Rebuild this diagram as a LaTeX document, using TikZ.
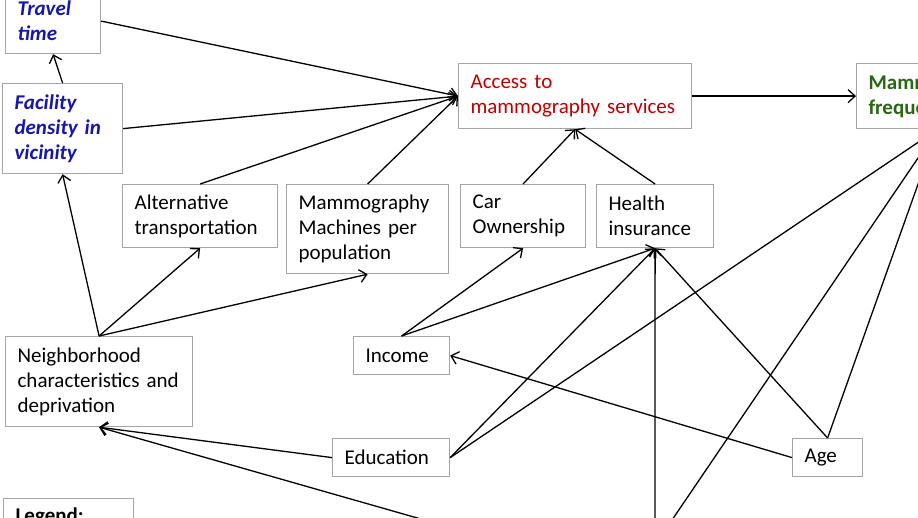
\documentclass[tikz,border=0pt]{standalone}
\usepackage{fontspec}
\setmainfont{Carlito}
\usetikzlibrary{arrows.meta}
\definecolor{boxgray}{RGB}{165,165,165}
\definecolor{factblue}{RGB}{22,22,170}
\definecolor{accessred}{RGB}{192,0,0}
\definecolor{freqgreen}{RGB}{40,104,18}
\begin{document}
\begin{tikzpicture}[x=1pt,y=-1pt,
  box/.style={draw=boxgray, line width=1.2pt, anchor=north west, align=left, inner xsep=12pt, inner ysep=0pt, font=\fontsize{21}{25}\selectfont},
  fact/.style={text=factblue, font=\fontsize{21}{25}\selectfont\bfseries\itshape},
  link/.style={-{Straight Barb[length=7pt,width=13pt]}, line width=1.3pt}]
\useasboundingbox (0,0) rectangle (918,517);
\clip (0,0) rectangle (918,517);
\node[box, fact, text width=71pt, minimum height=65pt] (travel) at (5,-12) {Travel\\time};
\node[box, fact, text width=96pt, minimum height=90pt] (facility) at (2,83) {Facility\\density in\\vicinity};
\node[box, text=accessred, text width=209pt, minimum height=65pt] (access) at (458,63) {Access to\\mammography services};
\node[box, text=freqgreen, font=\fontsize{21}{25}\selectfont\bfseries, text width=138pt, minimum height=65pt] (freq) at (856,63) {Mammography\\frequency};
\node[box, text width=131pt, minimum height=63pt] (alt) at (122,184) {Alternative\\transportation};
\node[box, text width=138pt, minimum height=89pt] (machines) at (286,184) {Mammography\\Machines per\\population};
\node[box, text width=101pt, minimum height=63pt] (car) at (460,184) {Car\\Ownership};
\node[box, text width=93pt, minimum height=63pt] (health) at (596,184) {Health\\insurance};
\node[box, text width=163pt, minimum height=90pt] (neigh) at (5,336) {Neighborhood\\characteristics and\\deprivation};
\node[box, text width=72pt, minimum height=38pt] (income) at (353,336) {Income};
\node[box, text width=93pt, minimum height=38pt] (educ) at (332,438) {Education};
\node[box, text width=46pt, minimum height=38pt] (age) at (792,438) {Age};
\node[box, font=\fontsize{21}{25}\selectfont\bfseries, inner ysep=9pt, text width=106pt] (legend) at (3,498) {Legend:};
\coordinate (lowA) at (512,545);
\coordinate (lowB) at (655,545);
\draw[link] (travel.east) -- (access.west);
\draw[link] (facility.east) -- (access.west);
\draw[link] (alt.north) -- (access.west);
\draw[link] (machines.north) -- (access.west);
\draw[link] (facility.north) -- (travel.south);
\draw[link] (neigh.north) -- (facility.south);
\draw[link] (neigh.north) -- (alt.south);
\draw[link] (neigh.north) -- (machines.south);
\draw[link] (car.north) -- (access.south);
\draw[link] (health.north) -- (access.south);
\draw[link] (access.east) -- (freq.west);
\draw[link] (income.north) -- (car.south);
\draw[link] (income.north) -- (health.south);
\draw[link] (educ.east) -- (health.south);
\draw[link] (educ.east) -- (freq.south);
\draw[link] (educ.west) -- (neigh.south);
\draw[link] (age.west) -- (income.east);
\draw[link] (age.north) -- (health.south);
\draw[link] (age.north) -- (freq.south);
\draw[link] (lowA) -- (neigh.south);
\draw[link] (lowB) -- (health.south);
\draw[link] (lowB) -- (freq.south);
\end{tikzpicture}
\end{document}
